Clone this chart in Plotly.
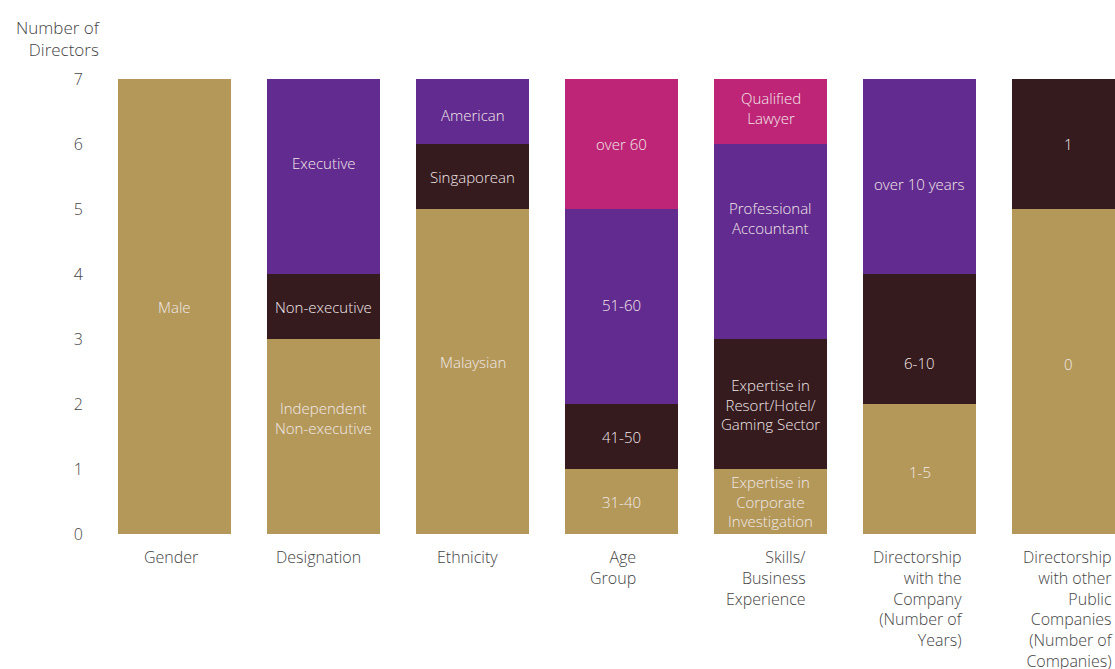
import plotly.graph_objects as go

categories = ["Gender", "Designation", "Ethnicity", "Age<br>Group",
              "Skills/<br>Business<br>Experience",
              "Directorship<br>with the<br>Company<br>(Number of<br>Years)",
              "Directorship<br>with other<br>Public<br>Companies<br>(Number of<br>Companies)"]

# segments per category, bottom to top: (label, value, colour key)
gender = [("Male", 7, "gold")]
designation = [("Independent<br>Non-executive", 3, "gold"), ("Non-executive", 1, "dark"), ("Executive", 3, "purple")]
ethnicity = [("Malaysian", 5, "gold"), ("Singaporean", 1, "dark"), ("American", 1, "purple")]
age_group = [("31-40", 1, "gold"), ("41-50", 1, "dark"), ("51-60", 3, "purple"), ("over 60", 2, "magenta")]
skills = [("Expertise in<br>Corporate<br>Investigation", 1, "gold"),
          ("Expertise in<br>Resort/Hotel/<br>Gaming Sector", 2, "dark"),
          ("Professional<br>Accountant", 3, "purple"),
          ("Qualified<br>Lawyer", 1, "magenta")]
years = [("1-5", 2, "gold"), ("6-10", 2, "dark"), ("over 10 years", 3, "purple")]
other_cos = [("0", 5, "gold"), ("1", 2, "dark")]

series = [gender, designation, ethnicity, age_group, skills, years, other_cos]
y_ticks = [0, 1, 2, 3, 4, 5, 6, 7]

# style: pixel nudges of labels, as in the original artwork
label_nudge = {"Independent<br>Non-executive": 19, "Executive": 14, "Malaysian": 10,
               "American": -3, "Professional<br>Accountant": 24, "Qualified<br>Lawyer": 4,
               "over 10 years": -7, "6-10": -24, "1-5": -3, "0": 8, "51-60": 2}
cat_xshift = [-4, -5, -5, -9, -5, -2, -1]

colors = {"gold": "#B39859", "dark": "#351A1E", "purple": "#622B8F", "magenta": "#BE2577"}
font_family = "Open Sans, Noto Sans, sans-serif"
text_grey = "#444444"
bar_text = "#F2E9E9"

fig = go.Figure()
for i, segs in enumerate(series):
    base = 0
    for label, val, ck in segs:
        fig.add_trace(go.Bar(
            x=[i], y=[val], width=0.752,
            marker=dict(color=colors[ck], line=dict(width=0)),
            hoverinfo="skip", showlegend=False,
        ))
        fig.add_annotation(x=i, y=base + val / 2, xref="x", yref="y", text=label,
                           showarrow=False, align="center", yshift=label_nudge.get(label, 0),
                           font=dict(family=font_family, size=15, color=bar_text, weight=300))
        base += val

for i, cat in enumerate(categories):
    fig.add_annotation(x=i, xref="x", y=0, yref="paper", yanchor="top", xanchor="center",
                       yshift=-10, xshift=cat_xshift[i], text=cat, align="right", showarrow=False,
                       font=dict(family=font_family, size=16, color=text_grey, weight=300))

fig.add_annotation(x=(103 - 90) / (1115 - 90), xref="paper", y=1, yref="paper",
                   text="Number of<br>Directors", showarrow=False, align="right",
                   xanchor="right", yanchor="bottom", yshift=16,
                   font=dict(family=font_family, size=17, color=text_grey, weight=300))

fig.update_layout(
    width=1115, height=669,
    margin=dict(l=90, r=0, t=79, b=135),
    barmode="stack", bargap=0,
    plot_bgcolor="white", paper_bgcolor="white",
    xaxis=dict(range=[-0.5672, 6.312], showticklabels=False, showgrid=False,
               zeroline=False, showline=False, fixedrange=True),
    yaxis=dict(range=[0, 7], tickvals=y_ticks, showgrid=False, zeroline=False,
               showline=False, ticks="", ticklabelstandoff=6,
               tickfont=dict(family=font_family, size=16, color=text_grey, weight=300)),
)

fig.write_html("out.html")
